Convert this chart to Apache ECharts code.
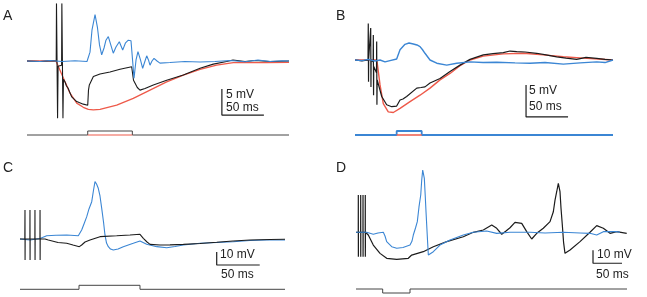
<!DOCTYPE html>
<html>
<head>
<meta charset="UTF-8"/>
<title></title>
<script src="https://cdn.jsdelivr.net/npm/echarts@6/dist/echarts.min.js"></script>
<style>
  html, body { margin: 0; padding: 0; background: #fff; }
  #placeholder { width: 647px; height: 297px; }
</style>
</head>
<body>
<div id="placeholder"></div>
<script type="text/javascript">
// recordings, [time ms, membrane potential mV relative to rest]
var aBlue = [[0,0],[15.5,-0.1],[27.4,0.1],[41.7,-0.1],[57.1,0.05],[71.4,-0.1],[73,-0.2],[75,1.7],[77.4,6],[81,8.9],[83.9,6.4],[86.3,3.1],[88.9,1.2],[91.7,2.5],[94,4],[96.8,4.7],[99.4,3.3],[102.7,1.5],[105.9,2.7],[109.9,3.7],[113.9,2.1],[117.3,3.5],[120.6,4],[123.8,3.9],[125.6,3.7],[127.4,-3.3],[129.8,0.2],[132.1,1.8],[135.1,0.2],[137.7,-1.4],[140.1,-0.2],[142.5,1],[144.6,0.2],[146.4,-0.8],[148.8,0],[151.2,0.5],[154.8,0],[158.3,-0.4],[170.2,-0.3],[188,-0.1],[206,-0.2],[223.8,-0.1],[241.7,0.1],[259.5,-0.15],[275,0.2],[289.3,-0.1],[303.6,0.05],[311.9,0]];
var aBlack = [[0,0],[15.5,-0.1],[29.8,0.05],[34.8,0],[35.1,11.1],[36.4,-11],[37,-1],[41.2,-0.8],[41.5,11.1],[42.8,-11],[43.4,-3.5],[45.2,-4],[47,-4.8],[48.8,-5.2],[53.2,-6.9],[59.2,-7.8],[67,-8.3],[72.3,-8.5],[73.2,-5.6],[74.2,-4.6],[79,-3],[86.9,-2.5],[98.8,-2.1],[110.7,-1.6],[124.6,-1.1],[125.9,-1],[126.8,-3.7],[131.3,-5.1],[134.5,-5.6],[140.5,-5.3],[150.4,-4.6],[166.3,-3.7],[186.1,-2.7],[206,-1.4],[221.8,-0.6],[237.7,-0.1],[245.2,0.2],[259.5,-0.1],[271.4,0.1],[289.3,-0.1],[311.9,0]];
var aRed = [[0,0],[34.5,0],[45.2,-4],[46.4,-4.4],[51.2,-6.2],[59.2,-8.1],[67,-8.9],[73,-9.3],[79,-9.4],[86.9,-9.3],[106.8,-8.5],[126.5,-7.2],[146.4,-5.6],[166.3,-4],[186.1,-2.7],[206,-1.6],[225.8,-0.8],[245.6,-0.3],[285.4,-0.3],[311.9,-0.25]];
var aStim = [[0,0],[72.3,0],[72.3,1],[125.4,1],[125.4,0],[311.9,0]];
var aStimRed = [[72.3,0],[125.4,0]];

var bBlue = [[0,0],[8.3,-0.1],[15.5,0.1],[23.8,-0.15],[29.8,0],[35.7,-0.3],[41.7,-0.1],[49.6,0.15],[53.6,1.6],[59.5,2.45],[64.3,2.65],[69.4,2.5],[73.8,2.35],[77.4,2.1],[80.4,1.6],[83.3,1.05],[89.3,0],[97.3,-0.5],[109.2,-0.8],[121.1,-0.5],[136.9,-0.3],[152.4,-0.4],[168.7,-0.35],[190.5,-0.45],[208.3,-0.5],[226.2,-0.4],[248,-0.65],[267.9,-0.45],[287.7,-0.3],[297.6,-0.4],[307.1,0]];
var bBlack = [[0,0],[8.3,-0.15],[15.5,0],[15.8,5.7],[16.1,-3.4],[16.3,0.2],[18.5,0.2],[18.7,5],[19,-4.2],[19.2,0],[21.6,-0.3],[21.8,3.9],[22.1,-5.5],[22.3,-1],[25.6,-2],[25.8,2.9],[26.1,-7],[26.4,-3.1],[27.7,-3.1],[31.8,-5.7],[37.7,-7],[43.7,-7.3],[49.6,-7.2],[53.6,-6.25],[57.1,-6.1],[61.5,-5.7],[73.5,-4.4],[78.6,-4.3],[83.3,-4.2],[89.3,-3.6],[101.2,-2.9],[113.1,-1.8],[125,-0.8],[136.9,0.1],[152.7,0.8],[164.3,1],[176.5,1.15],[184.5,1.4],[192.5,1.3],[202.4,1.25],[216.3,1.05],[227.4,0.8],[240.1,0.5],[251.2,0.3],[263.9,0.1],[275,0.4],[287.7,0.25],[297.6,0.1],[307.1,0]];
var bRed = [[0,0],[26,0],[29.8,-3.9],[33.7,-6.8],[39.6,-8.1],[45.6,-8.2],[53.6,-7.55],[65.5,-6.5],[77.4,-5.5],[89.3,-4.4],[101.2,-3.1],[113.1,-2.1],[125,-0.9],[136.9,0],[152.7,0.6],[176.5,0.95],[200.4,1.05],[224.2,0.8],[248,0.5],[271.8,0.3],[289.3,0.15],[307.1,0]];
var bStim = [[0,0],[49.6,0],[49.6,1],[79.4,1],[79.4,0],[307.1,0]];
var bStimRed = [[49.6,0],[79.4,0]];

var cBlue = [[0,0],[11.6,-0.8],[23.3,0.4],[31,2.5],[41.9,2.85],[54.3,3.1],[67.8,2.5],[71.7,6.9],[74.4,11.5],[77.6,17.2],[80.2,23.1],[83.4,28.7],[85.5,37.7],[87.2,44.1],[89,42.3],[91,39],[93,33.1],[95,23.6],[97.1,13.1],[98.8,3.1],[100.6,-3.1],[102.7,-5.9],[105.2,-7.7],[108.5,-8.5],[114,-7.7],[120.1,-5.9],[131.7,-3.3],[139.5,-1.5],[141.3,-1.9],[147.3,-4.1],[159,-5.9],[170.6,-6.7],[180.2,-5.8],[189.9,-4.6],[209.3,-3.3],[228.7,-2.7],[248,-2.1],[267.4,-1.15],[286.9,-0.8],[308.1,-0.8]];
var cBlack = [[0,0],[5.6,0.2],[5.8,22.3],[5.9,-16.2],[6,0],[11.5,0.2],[11.6,22.3],[11.7,-16.2],[11.8,0],[17.3,0],[17.4,22.3],[17.5,-16.2],[17.6,0],[23.2,0],[23.3,22.3],[23.4,-16.2],[23.5,0],[29.1,0],[32.9,-0.8],[34.9,-2.1],[44.2,-2.7],[54.3,-3.3],[61.6,-4.6],[69,-5.9],[71.7,-4.6],[75.6,-2.3],[81.4,-0.8],[93,1.8],[112.4,2.5],[127.9,3.1],[139.5,3.6],[140.7,3.1],[143.4,0.5],[147.7,-2.3],[151.2,-4.1],[162.8,-4.6],[174.4,-4.5],[189.9,-4.1],[209.3,-3.5],[228.7,-2.5],[247.7,-1.5],[267.4,-0.8],[290.7,-0.4],[308.1,-0.2]];
var cStim = [[0,0],[68.6,0],[68.6,1],[139.5,1],[139.5,0],[308.1,0]];

var dBlue = [[0,0],[18.4,0],[29.8,-1.5],[37.9,-0.5],[47.1,0],[50,-2.85],[52.9,-7.2],[61.6,-11.1],[70.2,-12.3],[81,-11.7],[93.1,-9.8],[96.6,-6.7],[98.8,-2.1],[102.6,3.3],[105.7,8.2],[108.6,19.5],[111.6,28.7],[113.3,40.2],[115,47.9],[117.8,41.5],[119.3,28.7],[120.7,15.8],[122.8,-2.1],[124.7,-17.5],[127.6,-17.1],[133.3,-14.9],[144.8,-9.8],[162.1,-5.9],[185,-2.1],[202.2,0],[225.3,1],[242.6,-0.8],[265.5,0],[300,0],[325.9,-0.5],[357.4,0],[386.2,-0.5],[403.4,-0.8],[415,-2.1],[426.4,0.5],[449.5,0.5],[455.2,0]];
var dBlack = [[0,0],[3.9,0],[4,28.7],[4.1,-18.8],[4.2,0],[8,0],[8.1,28.7],[8.2,-18.8],[8.3,0],[12,0],[12.1,28.7],[12.2,-18.8],[12.3,0],[15.9,0],[16,28.7],[16.1,-18.8],[16.3,0],[17.2,0.2],[21.2,-2.1],[29.8,-9.8],[41.4,-16.2],[52.9,-20],[70.2,-20.8],[90.2,-20],[96,-17.5],[116,-14.9],[133.3,-11.1],[156.4,-7.2],[185,-3.4],[202.2,0],[219.5,1.8],[234,5.6],[242.6,3.1],[251.2,-1.5],[258.6,1],[265.5,3.5],[274.1,7.7],[285.7,6.9],[294.3,0.5],[302.9,-5.15],[311.6,-0.8],[322.9,3.1],[334.5,8.2],[340.2,15.8],[343.1,24.8],[346,31.2],[348.8,37.7],[351.7,31.2],[353.4,18.7],[355.7,5.6],[357.8,-7.5],[360.3,-16.2],[369,-13.6],[386.2,-7.2],[403.4,0],[415,5.1],[426.4,3.1],[437.9,-0.8],[449.5,0.5],[466.7,-0.8]];
var dStim = [[0,0],[46,0],[46,-1],[93.1,-1],[93.1,0],[467.2,0]];

// scale bars: [t, v] corners, and their labels
var barA = [[232,-5.4],[232,-10.4],[282,-10.4]];
var barB = [[203.6,-3.9],[203.6,-8.9],[253.6,-8.9]];
var barC = [[228.7,-10],[228.7,-20],[278.7,-20]];
var barD = [[408.6,-13.8],[408.6,-23.8],[458.6,-23.8]];
var panelLabels = ['A', 'B', 'C', 'D'];
var barLabels = [['5 mV', '50 ms'], ['5 mV', '50 ms'], ['10 mV', '50 ms'], ['10 mV', '50 ms']];

var BLUE = '#3b86d4', RED = '#ee5a4a', BLACK = '#1c1c1c', GREY = '#444';

var myChart = echarts.init(document.getElementById('placeholder'), null, { renderer: 'canvas' });

function trace(idx, data, color, w, z) {
    return {
        type: 'line', xAxisIndex: idx, yAxisIndex: idx, data: data,
        showSymbol: false, symbol: 'none', animation: false, z: z || 2,
        lineStyle: { color: color, width: w || 1.1 }
    };
}
function axX(idx, max) { return { gridIndex: idx, type: 'value', min: 0, max: max, show: false }; }
function axY(idx, min, max) { return { gridIndex: idx, type: 'value', min: min, max: max, show: false }; }
function txt(s, x, y, size) {
    return { type: 'text', left: x, top: y, style: { text: s, fill: '#222', font: size + 'px "Liberation Sans", Arial, sans-serif' } };
}

var option = {
    backgroundColor: '#fff',
    grid: [
        { left: 27, top: 3.8, width: 262, height: 119.6 },
        { left: 27, top: 129, width: 262, height: 8 },
        { left: 355, top: 2.4, width: 258, height: 121.6 },
        { left: 355, top: 129, width: 258, height: 8 },
        { left: 20, top: 174, width: 265, height: 93.6 },
        { left: 20, top: 283.3, width: 265, height: 8 },
        { left: 356, top: 167.3, width: 271, height: 100.1 },
        { left: 356, top: 283, width: 271, height: 12 }
    ],
    xAxis: [axX(0, 311.9), axX(1, 311.9), axX(2, 307.1), axX(3, 307.1), axX(4, 308.1), axX(5, 308.1), axX(6, 467.2), axX(7, 467.2)],
    yAxis: [axY(0, -12, 11), axY(1, -0.5, 1.5), axY(2, -10, 9), axY(3, -0.5, 1.5), axY(4, -22, 50), axY(5, -0.5, 1.5), axY(6, -27, 50), axY(7, -1.5, 1.5)],
    series: [
        trace(0, aRed, RED, 1.3, 2), trace(0, aBlack, BLACK, 1.1, 3), trace(0, aBlue, BLUE, 1.1, 4),
        trace(0, barA, BLACK, 1.2, 5),
        trace(1, aStim, GREY, 1), trace(1, aStimRed, RED, 1.2, 3),
        trace(2, bRed, RED, 1.4, 2), trace(2, bBlack, BLACK, 1.2, 3), trace(2, bBlue, BLUE, 1.4, 4),
        trace(2, barB, BLACK, 1.2, 5),
        trace(3, bStim, BLUE, 1.8), trace(3, bStimRed, RED, 1.4, 3),
        trace(4, cBlue, BLUE, 1.1, 2), trace(4, cBlack, BLACK, 1.1, 3),
        trace(4, barC, BLACK, 1.2, 5),
        trace(5, cStim, GREY, 1),
        trace(6, dBlack, BLACK, 1.2, 2), trace(6, dBlue, BLUE, 1.1, 3),
        trace(6, barD, BLACK, 1.2, 5),
        trace(7, dStim, GREY, 1)
    ],
    graphic: [
        txt(panelLabels[0], 3, 9, 14), txt(panelLabels[1], 336, 9, 14),
        txt(panelLabels[2], 3, 161, 14), txt(panelLabels[3], 336, 161, 14),
        txt(barLabels[0][0], 226, 89, 12), txt(barLabels[0][1], 226, 102, 12),
        txt(barLabels[1][0], 529, 85, 12), txt(barLabels[1][1], 529, 101, 12),
        txt(barLabels[2][0], 220, 249, 12), txt(barLabels[2][1], 221, 269, 12),
        txt(barLabels[3][0], 597, 249, 12), txt(barLabels[3][1], 596, 269, 12)
    ]
};
myChart.setOption(option, true);
</script>
</body>
</html>
